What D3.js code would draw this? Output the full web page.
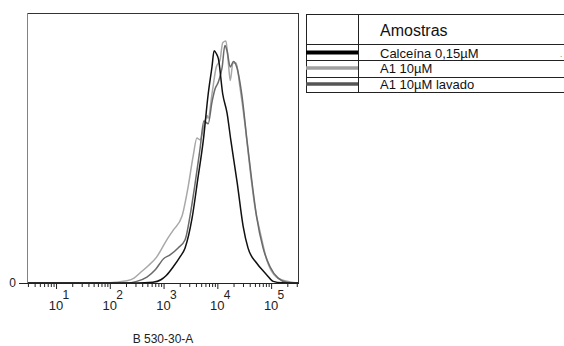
<!DOCTYPE html>
<html><head><meta charset="utf-8">
<script src="https://cdn.jsdelivr.net/npm/d3@7/dist/d3.min.js"></script>
<style>body{margin:0;background:#fff}svg{display:block;font-family:"Liberation Sans",Arial,sans-serif}</style>
</head><body><svg id="c" width="564" height="346"></svg>
<script>
// Series: x = log10(B 530-30-A intensity), y = % of max count
const seriesNames = ["Calceína 0,15µM", "A1 10µM", "A1 10µM lavado"];
const calceinaX = [0.46,2.5,2.8,2.95,3.05,3.18,3.3,3.4,3.53,3.64,3.74,3.83,3.9,3.94,3.98,4.02,4.1,4.18,4.25,4.37,4.48,4.57,4.73,4.85,4.92,5.04,5.2,5.5];
const calceinaY = [0,0,0.3,1.2,2.8,6,9.5,13,24,39,53,70,80,86,85,83,70,63,53,37,21,13,7.4,4.5,3,0.6,0.1,0];
const a1X = [0.46,1.9,2.1,2.32,2.45,2.56,2.72,2.87,3.06,3.18,3.34,3.46,3.55,3.62,3.68,3.77,3.81,3.83,3.9,3.98,4.05,4.1,4.16,4.2,4.24,4.29,4.35,4.42,4.52,4.61,4.7,4.8,4.92,5.1,5.35,5.5];
const a1Y = [0,0,0.3,0.8,1.8,3.7,6.5,9.6,16,19.6,24.6,36,47,53.7,53,60,62,61,70,80,82.6,89,89.6,82.6,75,81.5,81.5,72.6,57.8,41.8,28,18.5,8.5,2.2,0.4,0];
const lavadoX = [0.46,2.3,2.5,2.69,2.85,3.0,3.12,3.27,3.4,3.49,3.58,3.68,3.75,3.83,3.9,3.96,4.02,4.09,4.14,4.18,4.24,4.3,4.36,4.46,4.55,4.64,4.73,4.85,4.98,5.13,5.29,5.5];
const lavadoY = [0,0,0.6,2.2,5,9,10.4,13,16,24.6,36,50,60,59,67,72,74.5,80,88,86,80,82,80,69,53,38,24.6,13,6,1.8,0.3,0];
const xDomainLog = [0.46, 5.5];
const xMajorExp = [1,2,3,4,5];
const xMinorMult = [2,3,4,5,6,7,8,9];
const yTickLabels = ["0"];
const legendTitle = "Amostras";
const axisTitle = "B 530-30-A";
const colors = ["#111111", "#a8a8a8", "#6a6a6a"];

const svg = d3.select("#c");
const L = 27, T = 13, R = 298, B = 283;
const x = d3.scaleLog().domain(xDomainLog.map(e => Math.pow(10, e))).range([L, R]);
const y = d3.scaleLinear().domain([0, 100]).range([B, T]);

// curves
const data = [
  {x: a1X, y: a1Y, c: colors[1]},
  {x: lavadoX, y: lavadoY, c: colors[2]},
  {x: calceinaX, y: calceinaY, c: colors[0]}
];
const line = d3.line().x(d => x(Math.pow(10, d[0]))).y(d => y(d[1])).curve(d3.curveMonotoneX);
const plot = svg.append("g");
plot.append("clipPath").attr("id","clip").append("rect").attr("x",L).attr("y",T).attr("width",R-L).attr("height",B-T);
data.forEach(s => {
  plot.append("path").attr("clip-path","url(#clip)")
    .attr("d", line(s.x.map((v, i) => [v, s.y[i]])))
    .attr("fill","none").attr("stroke", s.c).attr("stroke-width", 1.5).attr("stroke-linejoin","round");
});

// frame
svg.append("line").attr("x1",L).attr("x2",R).attr("y1",T+0.5).attr("y2",T+0.5).attr("stroke","#333");
svg.append("line").attr("x1",R+0.5).attr("x2",R+0.5).attr("y1",T).attr("y2",B).attr("stroke","#333");
svg.append("line").attr("x1",L+0.5).attr("x2",L+0.5).attr("y1",T).attr("y2",B).attr("stroke","#3f9e9e");

// x axis: minor ticks and major ticks via d3 axes
const lo = x.domain()[0], hi = x.domain()[1];
const minorVals = [];
[0,1,2,3,4,5].forEach(e => xMinorMult.forEach(m => { const v = m * Math.pow(10, e); if (v >= lo && v <= hi) minorVals.push(v); }));
const majorVals = xMajorExp.map(e => Math.pow(10, e));
svg.append("g").attr("transform", `translate(0,${B})`)
  .call(d3.axisBottom(x).tickValues(minorVals).tickSize(4).tickFormat(() => ""))
  .call(g => g.select(".domain").remove())
  .call(g => g.selectAll(".tick line").attr("stroke", "#222").attr("stroke-width", 1));
svg.append("g").attr("transform", `translate(0,${B})`)
  .call(d3.axisBottom(x).tickValues(majorVals).tickSize(6).tickFormat(() => ""))
  .call(g => g.select(".domain").remove())
  .call(g => g.selectAll(".tick line").attr("stroke", "#222").attr("stroke-width", 1));
svg.append("line").attr("x1",19).attr("x2",R+1).attr("y1",B+0.5).attr("y2",B+0.5).attr("stroke","#222").attr("stroke-width",1.2);

xMajorExp.forEach(e => {
  svg.append("text").attr("x", x(Math.pow(10, e))).attr("y", 310)
    .attr("text-anchor","middle").attr("font-size", 13).attr("fill","#222").text("10");
  svg.append("text").attr("x", x(Math.pow(10, e)) + 6.5).attr("y", 299)
    .attr("font-size", 12).attr("fill","#222").text(e);
});
svg.append("text").attr("x", 163).attr("y", 343).attr("text-anchor","middle")
  .attr("font-size", 12).attr("fill","#222").text(axisTitle);

// y axis
svg.append("text").attr("x", 16).attr("y", 287).attr("text-anchor","end")
  .attr("font-size", 12).attr("fill","#222").text(yTickLabels[0]);

// legend table
const lg = svg.append("g");
const lx0 = 306, lx1 = 358, lx2 = 564;
const rowsY = [14, 44, 60, 77, 92];
rowsY.forEach(v => lg.append("line").attr("x1",lx0).attr("x2",lx2).attr("y1",v+0.5).attr("y2",v+0.5).attr("stroke","#222"));
[lx0, lx1].forEach(v => lg.append("line").attr("x1",v+0.5).attr("x2",v+0.5).attr("y1",14).attr("y2",92).attr("stroke","#222"));
lg.append("text").attr("x",380).attr("y",36).attr("font-size",16).attr("fill","#111").text(legendTitle);
const sampleY = [52.5, 68, 84];
const sampleW = [4, 3.5, 3.5];
const textY = [57.5, 73, 89];
const legendColors = ["#000", "#a0a0a0", "#555"];
seriesNames.forEach((n, i) => {
  lg.append("line").attr("x1",lx0).attr("x2",lx1).attr("y1",sampleY[i]).attr("y2",sampleY[i])
    .attr("stroke", legendColors[i]).attr("stroke-width", sampleW[i]);
  lg.append("text").attr("x",380).attr("y",textY[i]).attr("font-size",13).attr("fill","#111").text(n);
});
lg.append("text").attr("x",560).attr("y",57).attr("font-size",8).attr("fill","#555").text(".");
</script></body></html>
